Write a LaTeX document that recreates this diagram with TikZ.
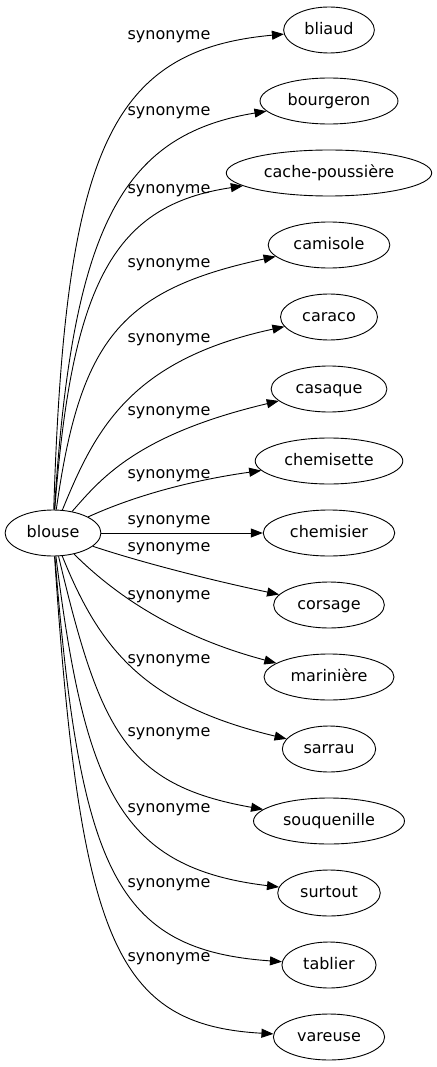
\documentclass[tikz,border=0pt]{standalone}
\usepackage{fontspec}
\setmainfont{DejaVu Sans}
\usetikzlibrary{arrows.meta,shapes.geometric}
\begin{document}
\begin{tikzpicture}[x=1pt, y=-1pt, line width=0.9pt, font=\fontsize{16}{19}\selectfont, >={Triangle[length=12pt,width=9pt]},
	mot/.style={draw, ellipse, inner xsep=7.5pt, inner ysep=1pt, minimum height=46pt, text height=12pt, text depth=3.5pt},
	syn/.style={inner sep=0pt}]
				\useasboundingbox (0,0) rectangle (436,1067);
				\node[mot] (blouse) at (53,533) {blouse};
				\foreach \n/\t/\y in {bliaud/bliaud/30, bourgeron/bourgeron/101, cache/cache-poussière/173, camisole/camisole/245, caraco/caraco/317, casaque/casaque/389, chemisette/chemisette/461, chemisier/chemisier/533, corsage/corsage/605, mariniere/marinière/677, sarrau/sarrau/749, souquenille/souquenille/821, surtout/surtout/893, tablier/tablier/965, vareuse/vareuse/1037}{
				\node[mot] (\n) at (329,\y) {\t};
				}
				\foreach \y [count=\i] in {37, 113, 191, 265, 340, 413, 476, 522, 549, 597, 661, 734, 810, 885, 959}{
				\node[syn] (l\i) at (169,\y) {synonyme};
				}
				\foreach \n/\a/\b/\c/\d in {bliaud/65/150/110/50, bourgeron/72/230/120/135, cache/72/280/115/205, camisole/80/340/120/290, caraco/95/430/130/360, casaque/100/480/135/435, chemisette/125/500/180/482, corsage/140/562/210/580, mariniere/110/590/170/635, sarrau/100/650/145/705, souquenille/100/730/125/785, surtout/85/790/120/868, tablier/80/870/115/950, vareuse/80/940/115/1025}{
				\draw[->] (blouse) .. controls (\a,\b) and (\c,\d) .. (\n);
				}
				\draw[->] (blouse)--(chemisier);
			\end{tikzpicture}
\end{document}
